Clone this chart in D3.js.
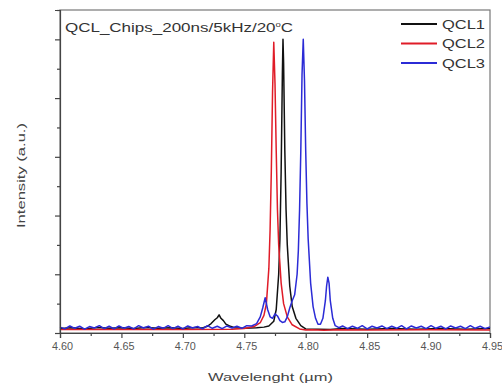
<!DOCTYPE html>
<html>
<head>
<meta charset="utf-8">
<script src="https://cdn.jsdelivr.net/npm/d3@7"></script>
<style>
  body { margin: 0; background: #fff; }
  svg text { font-family: "Liberation Sans", Arial, sans-serif; }
</style>
</head>
<body>
<div id="chart"></div>
<script>
// spectra: [wavelength (um), intensity (a.u.)]
const qcl1 = [
  [4.600, 0.015], [4.610, 0.018], [4.620, 0.014], [4.630, 0.019], [4.640, 0.016],
  [4.650, 0.018], [4.660, 0.015], [4.670, 0.019], [4.680, 0.016], [4.690, 0.018],
  [4.700, 0.015], [4.710, 0.019], [4.716, 0.017], [4.720, 0.023], [4.723, 0.032],
  [4.726, 0.045], [4.728, 0.052], [4.7295, 0.062], [4.731, 0.050], [4.733, 0.042],
  [4.735, 0.030], [4.738, 0.024], [4.742, 0.018], [4.750, 0.016], [4.760, 0.018],
  [4.766, 0.020], [4.770, 0.024], [4.774, 0.040], [4.776, 0.080], [4.778, 0.200],
  [4.779, 0.320], [4.780, 0.550], [4.781, 0.880], [4.7815, 1.000], [4.782, 0.920],
  [4.783, 0.620], [4.784, 0.420], [4.785, 0.300], [4.787, 0.160], [4.789, 0.090],
  [4.792, 0.050], [4.796, 0.025], [4.800, 0.014], [4.810, 0.013], [4.820, 0.012],
  [4.830, 0.015], [4.850, 0.013], [4.870, 0.015], [4.890, 0.013], [4.910, 0.015],
  [4.930, 0.013], [4.950, 0.015]
];
const qcl2 = [
  [4.600, 0.012], [4.650, 0.012], [4.700, 0.012], [4.740, 0.013], [4.750, 0.015],
  [4.758, 0.022], [4.763, 0.035], [4.766, 0.060], [4.768, 0.100], [4.770, 0.220],
  [4.771, 0.350], [4.772, 0.550], [4.773, 0.820], [4.774, 0.990], [4.775, 0.850],
  [4.776, 0.620], [4.777, 0.420], [4.778, 0.300], [4.780, 0.170], [4.782, 0.100],
  [4.785, 0.055], [4.789, 0.028], [4.795, 0.014], [4.800, 0.010], [4.805, 0.011],
  [4.815, 0.009], [4.825, 0.011], [4.850, 0.010], [4.900, 0.011], [4.950, 0.010]
];
const qcl3 = [
  [4.600, 0.020], [4.604, 0.014], [4.608, 0.024], [4.612, 0.016], [4.616, 0.023],
  [4.620, 0.013], [4.624, 0.022], [4.628, 0.017], [4.632, 0.025], [4.636, 0.015],
  [4.640, 0.023], [4.644, 0.014], [4.648, 0.024], [4.652, 0.016], [4.656, 0.022],
  [4.660, 0.014], [4.664, 0.025], [4.668, 0.017], [4.672, 0.023], [4.676, 0.013],
  [4.680, 0.022], [4.684, 0.016], [4.688, 0.025], [4.692, 0.015], [4.696, 0.023],
  [4.700, 0.014], [4.704, 0.024], [4.708, 0.017], [4.712, 0.022], [4.716, 0.014],
  [4.720, 0.025], [4.724, 0.016], [4.728, 0.023], [4.732, 0.015], [4.736, 0.024],
  [4.740, 0.017], [4.744, 0.023], [4.748, 0.016], [4.752, 0.025], [4.756, 0.024],
  [4.760, 0.032], [4.763, 0.055], [4.765, 0.085], [4.767, 0.120], [4.769, 0.080],
  [4.771, 0.055], [4.773, 0.050], [4.775, 0.065], [4.777, 0.058], [4.779, 0.042],
  [4.781, 0.036], [4.783, 0.038], [4.785, 0.055], [4.787, 0.085], [4.789, 0.110],
  [4.791, 0.130], [4.793, 0.200], [4.794, 0.280], [4.795, 0.420], [4.796, 0.620],
  [4.797, 0.880], [4.798, 1.000], [4.799, 0.860], [4.800, 0.620], [4.801, 0.440],
  [4.802, 0.320], [4.804, 0.170], [4.806, 0.090], [4.808, 0.050], [4.810, 0.030],
  [4.812, 0.030], [4.814, 0.050], [4.816, 0.110], [4.817, 0.160], [4.818, 0.190],
  [4.819, 0.170], [4.820, 0.110], [4.822, 0.050], [4.824, 0.025], [4.827, 0.018],
  [4.830, 0.024], [4.834, 0.015], [4.838, 0.023], [4.842, 0.016], [4.846, 0.025],
  [4.850, 0.014], [4.854, 0.023], [4.858, 0.017], [4.862, 0.024], [4.866, 0.015],
  [4.870, 0.023], [4.874, 0.016], [4.878, 0.025], [4.882, 0.014], [4.886, 0.024],
  [4.890, 0.017], [4.894, 0.023], [4.898, 0.015], [4.902, 0.025], [4.906, 0.016],
  [4.910, 0.023], [4.914, 0.014], [4.918, 0.024], [4.922, 0.017], [4.926, 0.023],
  [4.930, 0.015], [4.934, 0.025], [4.938, 0.016], [4.942, 0.023], [4.946, 0.015],
  [4.950, 0.021]
];
const seriesNames = ["QCL1", "QCL2", "QCL3"];
const seriesColors = ["#111111", "#e01c28", "#2b2bd6"];
const xTicks = [4.60, 4.65, 4.70, 4.75, 4.80, 4.85, 4.90, 4.95];
const xMinor = [4.625, 4.675, 4.725, 4.775, 4.825, 4.875, 4.925];
const yTicks = [0, 0.2, 0.4, 0.6, 0.8, 1.0];
const yMinor = [0.1, 0.3, 0.5, 0.7, 0.9, 1.1];

const width = 502, height = 389;
const margin = { top: 10, right: 12, bottom: 56, left: 60 };

const svg = d3.select("#chart").append("svg")
  .attr("width", width)
  .attr("height", height);

const x = d3.scaleLinear()
  .domain([4.60, 4.95])
  .range([margin.left, width - margin.right]);
const y = d3.scaleLinear()
  .domain([0, 1.1])
  .range([height - margin.bottom, margin.top]);

// frame
svg.append("rect")
  .attr("x", margin.left).attr("y", margin.top)
  .attr("width", width - margin.left - margin.right)
  .attr("height", height - margin.top - margin.bottom)
  .attr("fill", "none").attr("stroke", "#777").attr("stroke-width", 1.2);

const line = d3.line().x(d => x(d[0])).y(d => y(d[1]));
const plot = svg.append("g");
[qcl1, qcl2, qcl3].forEach((data, i) => {
  plot.append("path")
    .datum(data)
    .attr("d", line)
    .attr("fill", "none")
    .attr("stroke", seriesColors[i])
    .attr("stroke-width", 1.5)
    .attr("stroke-linejoin", "round");
});

// x axis
const xAxis = svg.append("g")
  .attr("transform", "translate(0," + y(0) + ")")
  .call(d3.axisBottom(x).tickValues(xTicks).tickFormat(d3.format(".2f")).tickSize(5).tickPadding(5));
svg.append("g")
  .attr("transform", "translate(0," + y(0) + ")")
  .call(d3.axisBottom(x).tickValues(xMinor).tickFormat("").tickSize(3))
  .select(".domain").remove();
xAxis.selectAll("text")
  .attr("font-size", 10).attr("fill", "#555")
  .attr("dx", 2)
  .attr("textLength", 21).attr("lengthAdjust", "spacingAndGlyphs");

// y axis, no labels
svg.append("g")
  .attr("transform", "translate(" + margin.left + ",0)")
  .call(d3.axisLeft(y).tickValues(yTicks).tickFormat("").tickSize(5));
svg.append("g")
  .attr("transform", "translate(" + margin.left + ",0)")
  .call(d3.axisLeft(y).tickValues(yMinor).tickFormat("").tickSize(3))
  .select(".domain").remove();
svg.selectAll(".domain, .tick line").attr("stroke", "#444").attr("stroke-width", 1.2);

// axis titles
svg.append("text")
  .attr("x", 208)
  .attr("y", 381)
  .attr("font-size", 11.5)
  .attr("fill", "#444")
  .attr("textLength", 125).attr("lengthAdjust", "spacingAndGlyphs")
  .text("Wavelenght (\u00b5m)");
svg.append("text")
  .attr("transform", "translate(25,228) rotate(-90)")
  .attr("font-size", 11)
  .attr("fill", "#444")
  .attr("textLength", 105).attr("lengthAdjust", "spacingAndGlyphs")
  .text("Intensity (a.u.)");

// title inside plot
const title = svg.append("text")
  .attr("x", 65).attr("y", 32)
  .attr("font-size", 12.5)
  .attr("fill", "#333")
  .attr("transform", "translate(65,0) scale(1.36,1) translate(-65,0)");
title.append("tspan").text("QCL_Chips_200ns/5kHz/20");
title.append("tspan").attr("dy", -5).attr("font-size", 7).text("o");
title.append("tspan").attr("dy", 5).text("C");

// legend
const legend = svg.append("g");
seriesNames.forEach((name, i) => {
  const ly = 24 + i * 19.5;
  legend.append("line")
    .attr("x1", 401).attr("x2", 437)
    .attr("y1", ly).attr("y2", ly)
    .attr("stroke", seriesColors[i]).attr("stroke-width", 1.8);
  legend.append("text")
    .attr("x", 442).attr("y", ly + 4.5)
    .attr("font-size", 12)
    .attr("fill", "#333")
    .attr("textLength", 43).attr("lengthAdjust", "spacingAndGlyphs")
    .text(name);
});
</script>
</body>
</html>
